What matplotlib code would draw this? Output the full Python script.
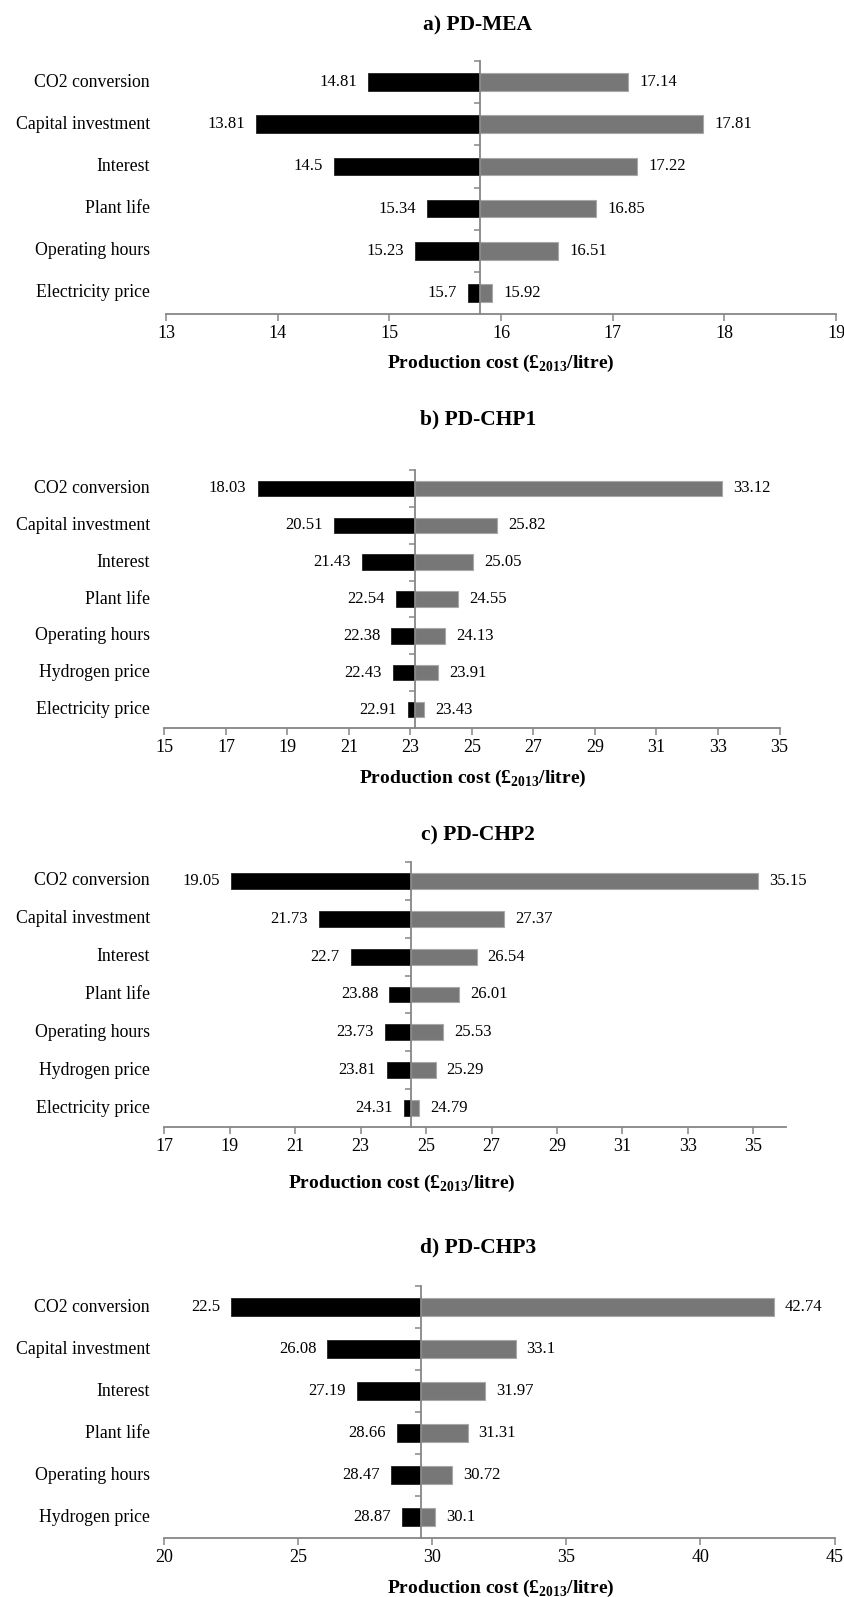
import matplotlib
matplotlib.use("Agg")
import matplotlib.pyplot as plt
import matplotlib.transforms as mtrans

plt.rcParams['font.family'] = ['Liberation Serif', 'DejaVu Serif']
plt.rcParams['mathtext.fontset'] = 'custom'
plt.rcParams['mathtext.rm'] = 'Liberation Serif'
plt.rcParams['mathtext.bf'] = 'Liberation Serif:bold'

# panel a) PD-MEA
cats_a = ["CO2 conversion", "Capital investment", "Interest", "Plant life",
          "Operating hours", "Electricity price"]
base_a = 15.81
low_a = [14.81, 13.81, 14.5, 15.34, 15.23, 15.7]
high_a = [17.14, 17.81, 17.22, 16.85, 16.51, 15.92]
ticks_a = [13, 14, 15, 16, 17, 18, 19]

# panel b) PD-CHP1
cats_b = ["CO2 conversion", "Capital investment", "Interest", "Plant life",
          "Operating hours", "Hydrogen price", "Electricity price"]
base_b = 23.15
low_b = [18.03, 20.51, 21.43, 22.54, 22.38, 22.43, 22.91]
high_b = [33.12, 25.82, 25.05, 24.55, 24.13, 23.91, 23.43]
ticks_b = [15, 17, 19, 21, 23, 25, 27, 29, 31, 33, 35]

# panel c) PD-CHP2
cats_c = cats_b
base_c = 24.53
low_c = [19.05, 21.73, 22.7, 23.88, 23.73, 23.81, 24.31]
high_c = [35.15, 27.37, 26.54, 26.01, 25.53, 25.29, 24.79]
ticks_c = [17, 19, 21, 23, 25, 27, 29, 31, 33, 35]

# panel d) PD-CHP3
cats_d = ["CO2 conversion", "Capital investment", "Interest", "Plant life",
          "Operating hours", "Hydrogen price"]
base_d = 29.57
low_d = [22.5, 26.08, 27.19, 28.66, 28.47, 28.87]
high_d = [42.74, 33.1, 31.97, 31.31, 30.72, 30.1]
ticks_d = [20, 25, 30, 35, 40, 45]

W, H = 845, 1597
fig = plt.figure(figsize=(W / 100, H / 100), dpi=100)

axcol = '#868686'
xlab = r'Production cost (£$_{\mathbf{2013}}$/litre)'


def tornado(box, title, title_y, xlab_x, xlab_y, cats, base, low, high, ticks, xlim):
    l, t, r, b = box
    ax = fig.add_axes([l / W, 1 - b / H, (r - l) / W, (b - t) / H])
    n = len(cats)
    ys = [n - 1 - i for i in range(n)]
    ax.barh(ys, [base - v for v in low], left=low, height=0.42,
            color='#000000', edgecolor='#222222', linewidth=0.6, zorder=2)
    ax.barh(ys, [v - base for v in high], left=base, height=0.42,
            color='#777777', edgecolor='#a8a8a8', linewidth=0.8, zorder=2)
    for y, lo, hi in zip(ys, low, high):
        ax.annotate('{:g}'.format(lo), (lo, y), xytext=(-8, 0), textcoords='offset points',
                    ha='right', va='center', fontsize=12)
        ax.annotate('{:g}'.format(hi), (hi, y), xytext=(8, 0), textcoords='offset points',
                    ha='left', va='center', fontsize=12)
    tr = mtrans.blended_transform_factory(fig.transFigure, ax.transData)
    for y, c in zip(ys, cats):
        ax.text(150 / W, y, c, transform=tr, ha='right', va='center', fontsize=12.8)
    ax.set_xlim(*xlim)
    ax.set_ylim(-0.5, n - 0.5)
    ax.set_xticks(ticks)
    ax.tick_params(axis='x', direction='out', length=5, width=1.1, color=axcol,
                   labelsize=13, pad=3)
    ax.set_yticks([k + 0.5 for k in range(n)])
    ax.set_yticklabels([])
    ax.tick_params(axis='y', direction='out', length=4, width=1.1, color=axcol)
    ax.spines['left'].set_position(('data', base))
    ax.spines['left'].set_color(axcol)
    ax.spines['left'].set_linewidth(1.3)
    ax.spines['left'].set_zorder(3)
    ax.spines['bottom'].set_color(axcol)
    ax.spines['bottom'].set_linewidth(1.3)
    ax.spines['top'].set_visible(False)
    ax.spines['right'].set_visible(False)
    fig.text(478 / W, 1 - title_y / H, title, ha='center', va='center',
             fontsize=15.5, fontweight='bold')
    fig.text(xlab_x / W, 1 - xlab_y / H, xlab, ha='center', va='center',
             fontsize=14, fontweight='bold')
    return ax


tornado((166, 61, 836, 314), 'a) PD-MEA', 25, 501, 363,
        cats_a, base_a, low_a, high_a, ticks_a, (13, 19))
tornado((164.4, 470, 779.5, 728), 'b) PD-CHP1', 419, 473, 778,
        cats_b, base_b, low_b, high_b, ticks_b, (15, 35))
tornado((164.4, 862, 786, 1127), 'c) PD-CHP2', 835, 402, 1183,
        cats_c, base_c, low_c, high_c, ticks_c, (17, 36))
tornado((164.4, 1286, 834.5, 1538), 'd) PD-CHP3', 1247, 501, 1588,
        cats_d, base_d, low_d, high_d, ticks_d, (20, 45))

fig.savefig('out.png', dpi=100)
